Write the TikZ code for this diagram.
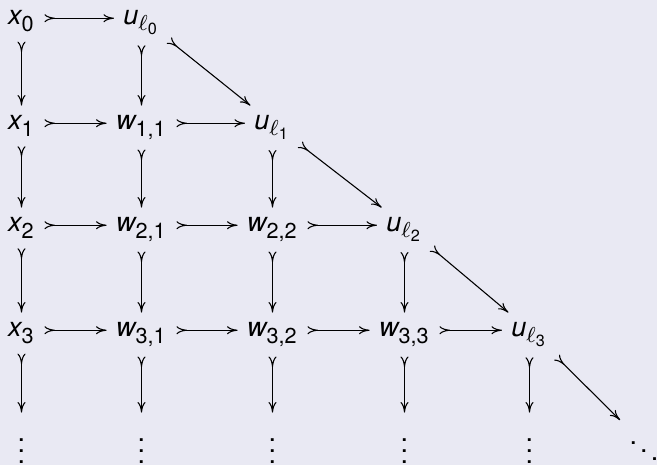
\documentclass[tikz,border=0pt]{standalone}
\usepackage{amsmath}
\usepackage{fontspec}
\setmainfont{TeX Gyre Heros}
\DeclareMathSizes{10}{10}{8}{6}
\usetikzlibrary{arrows.meta,cd}
\newcommand{\sv}[1]{\text{\itshape #1}}
\newcommand{\sd}[1]{\text{#1}}
\newcommand{\cm}{\mathpunct{\text{,}}}
\definecolor{bgc}{RGB}{233,233,243}
\begin{document}
\begin{tikzpicture}[x=0.37pt,y=-0.37pt,
  obj/.style={shape=asymmetrical rectangle, anchor=base, inner xsep=3.3pt, inner ysep=3.6pt},
  mono/.style={line width=0.4pt, arrows={{Computer Modern Rightarrow[reversed,length=3.9pt,width=3pt]}-{Computer Modern Rightarrow[length=3.9pt,width=3pt]}}},
]
\fill[bgc] (0,0) rectangle (657,465);
\useasboundingbox (0,0) rectangle (657,465);
% row 0
\node[obj] (x0) at (21.5,25) {$\sv{x}_{\sd{0}}$};
\node[obj] (ul0) at (141.5,25) {$\sv{u}_{\ell_{\sd{0}}}$};
% row 1
\node[obj] (x1) at (21.5,130) {$\sv{x}_{\sd{1}}$};
\node[obj] (w11) at (141.5,130) {$\sv{w}_{\sd{1}\cm\sd{1}}$};
\node[obj] (ul1) at (272.5,130) {$\sv{u}_{\ell_{\sd{1}}}$};
% row 2
\node[obj] (x2) at (21.5,232) {$\sv{x}_{\sd{2}}$};
\node[obj] (w21) at (141.5,232) {$\sv{w}_{\sd{2}\cm\sd{1}}$};
\node[obj] (w22) at (272.5,232) {$\sv{w}_{\sd{2}\cm\sd{2}}$};
\node[obj] (ul2) at (404.5,232) {$\sv{u}_{\ell_{\sd{2}}}$};
% row 3
\node[obj] (x3) at (21.5,337) {$\sv{x}_{\sd{3}}$};
\node[obj] (w31) at (141.5,337) {$\sv{w}_{\sd{3}\cm\sd{1}}$};
\node[obj] (w32) at (272.5,337) {$\sv{w}_{\sd{3}\cm\sd{2}}$};
\node[obj] (w33) at (404.5,337) {$\sv{w}_{\sd{3}\cm\sd{3}}$};
\node[obj] (ul3) at (529.5,337) {$\sv{u}_{\ell_{\sd{3}}}$};
% row 4
\node[obj] (v1) at (21.5,463.5) {$\vdots$};
\node[obj] (v2) at (141.5,463.5) {$\vdots$};
\node[obj] (v3) at (272.5,463.5) {$\vdots$};
\node[obj] (v4) at (404.5,463.5) {$\vdots$};
\node[obj] (v5) at (529.5,463.5) {$\vdots$};
\node[obj] (dd) at (644,463.5) {$\ddots$};
\coordinate (ddtip) at (620,420);
% horizontal
\draw[mono] (x0) -- (ul0);
\draw[mono] (x1) -- (w11);
\draw[mono] (w11) -- (ul1);
\draw[mono] (x2) -- (w21);
\draw[mono] (w21) -- (w22);
\draw[mono] (w22) -- (ul2);
\draw[mono] (x3) -- (w31);
\draw[mono] (w31) -- (w32);
\draw[mono] (w32) -- (w33);
\draw[mono] (w33) -- (ul3);
% vertical
\draw[mono] (x0) -- (x1);
\draw[mono] (x1) -- (x2);
\draw[mono] (x2) -- (x3);
\draw[mono] (x3) -- (v1);
\draw[mono] (ul0) -- (w11);
\draw[mono] (w11) -- (w21);
\draw[mono] (w21) -- (w31);
\draw[mono] (w31) -- (v2);
\draw[mono] (ul1) -- (w22);
\draw[mono] (w22) -- (w32);
\draw[mono] (w32) -- (v3);
\draw[mono] (ul2) -- (w33);
\draw[mono] (w33) -- (v4);
\draw[mono] (ul3) -- (v5);
% diagonal
\draw[mono] (ul0) -- (ul1);
\draw[mono] (ul1) -- (ul2);
\draw[mono] (ul2) -- (ul3);
\draw[mono] (ul3) -- (ddtip);
\end{tikzpicture}
\end{document}
